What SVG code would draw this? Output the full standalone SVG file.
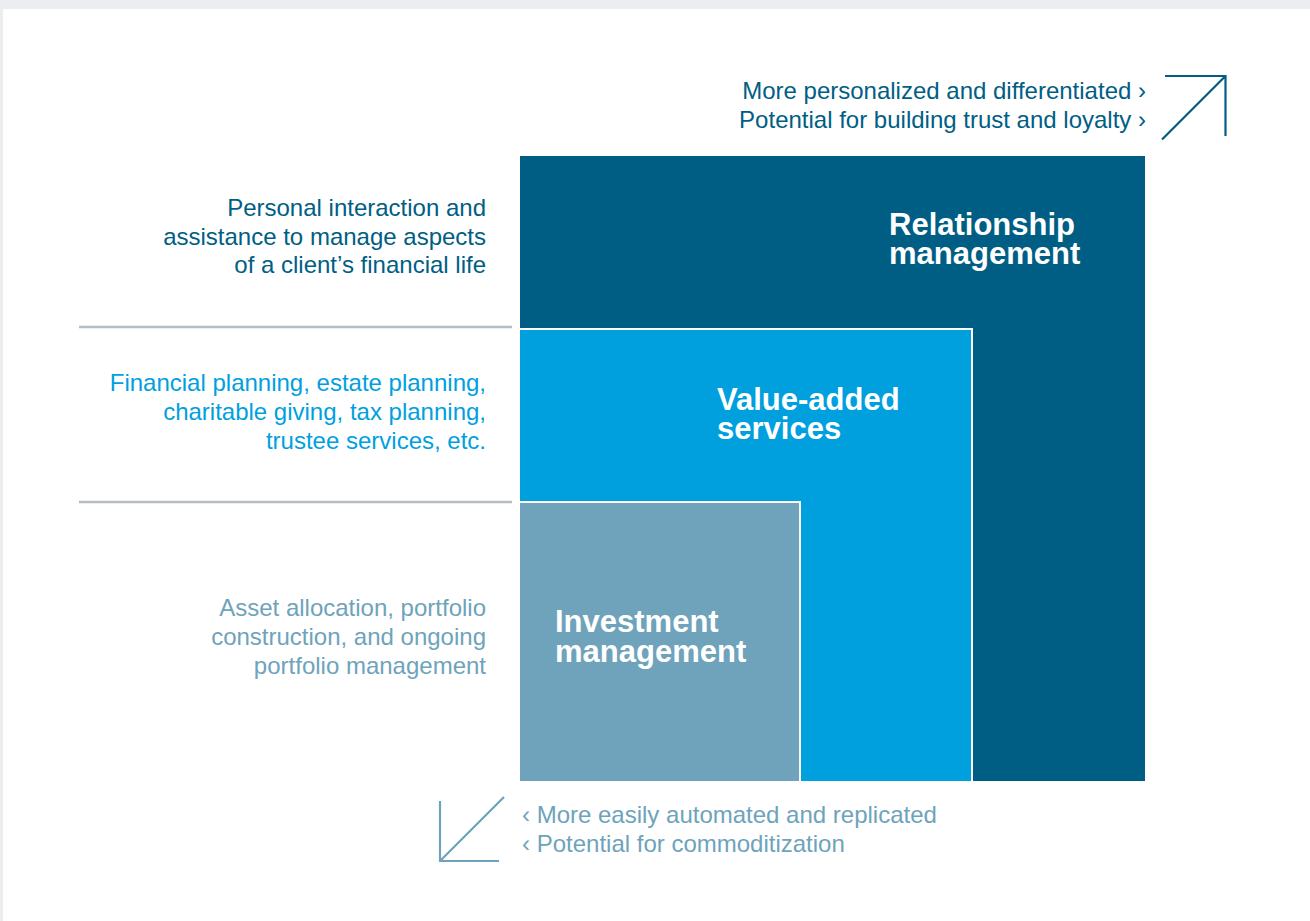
<svg xmlns="http://www.w3.org/2000/svg" width="1310" height="921" viewBox="0 0 1310 921">
  <style>
    .lbl { font-family: "Liberation Sans", Arial, sans-serif; font-size: 24px; }
    .ttl { font-family: "Liberation Sans", Arial, sans-serif; font-size: 31px; font-weight: bold; fill: #ffffff; }
    .dark { fill: #005e85; }
    .mid { fill: #00a0df; }
    .soft { fill: #6ea3bb; }
    .rule { stroke: #b6bcc4; stroke-width: 2.5; }
  </style>

  <!-- page frame -->
  <rect x="0" y="0" width="1310" height="921" fill="#ebedf0"/>
  <rect x="3" y="9" width="1307" height="912" fill="#ffffff"/>

  <!-- nested service tiers -->
  <g id="relationship-management">
    <rect x="520" y="156" width="625" height="625" fill="#005e85"/>
    <text class="ttl" x="889" y="235">Relationship</text>
    <text class="ttl" x="889" y="264">management</text>
  </g>
  <g id="value-added-services">
    <rect x="520" y="328" width="453" height="453" fill="#ffffff"/>
    <rect x="520" y="330" width="451" height="451" fill="#00a0df"/>
    <text class="ttl" x="717" y="410">Value-added</text>
    <text class="ttl" x="717" y="439">services</text>
  </g>
  <g id="investment-management">
    <rect x="520" y="501" width="281" height="280" fill="#ffffff"/>
    <rect x="520" y="503" width="279" height="278" fill="#6ea3bb"/>
    <text class="ttl" x="555" y="632">Investment</text>
    <text class="ttl" x="555" y="662">management</text>
  </g>

  <!-- tier descriptions -->
  <g id="desc-relationship" class="lbl dark" text-anchor="end">
    <text x="486" y="216">Personal interaction and</text>
    <text x="486" y="245">assistance to manage aspects</text>
    <text x="486" y="273">of a client’s financial life</text>
  </g>
  <g id="desc-value-added" class="lbl mid" text-anchor="end">
    <text x="486" y="391">Financial planning, estate planning,</text>
    <text x="486" y="420">charitable giving, tax planning,</text>
    <text x="486" y="449">trustee services, etc.</text>
  </g>
  <g id="desc-investment" class="lbl soft" text-anchor="end">
    <text x="486" y="616">Asset allocation, portfolio</text>
    <text x="486" y="645">construction, and ongoing</text>
    <text x="486" y="674">portfolio management</text>
  </g>

  <!-- separators -->
  <g id="separators">
    <line class="rule" x1="79" y1="327" x2="512" y2="327"/>
    <line class="rule" x1="79" y1="502" x2="512" y2="502"/>
  </g>

  <!-- direction indicators -->
  <g id="connectors" fill="none" stroke-width="2.2">
    <path d="M1165 76 H1225.5 V136 M1225.5 76 L1162 139.5" stroke="#005e85"/>
    <path d="M440 801 V861 H499 M440 861 L504 797" stroke="#6ea3bb"/>
  </g>

  <g id="legend-up" class="lbl dark" text-anchor="end">
    <text x="1146" y="99">More personalized and differentiated ›</text>
    <text x="1146" y="128">Potential for building trust and loyalty ›</text>
  </g>
  <g id="legend-down" class="lbl soft">
    <text x="522" y="823">‹ More easily automated and replicated</text>
    <text x="522" y="852">‹ Potential for commoditization</text>
  </g>
</svg>
